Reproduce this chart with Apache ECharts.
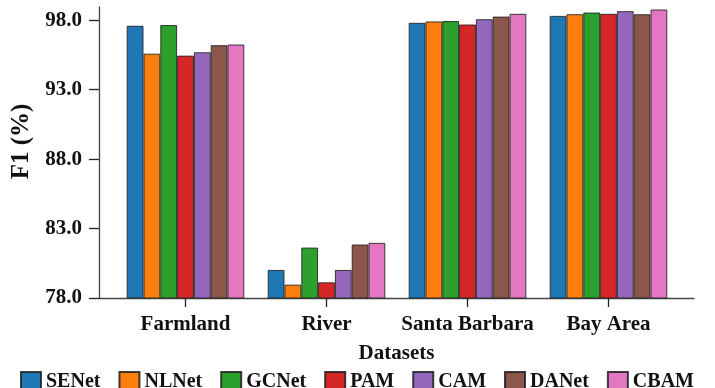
<!DOCTYPE html>
<html>
<head>
<meta charset="utf-8">
<script src="https://cdn.jsdelivr.net/npm/echarts@6/dist/echarts.min.js"></script>
<style>
  html, body { margin: 0; padding: 0; background: #fff; }
  #chart { width: 715px; height: 388px; }
</style>
</head>
<body>
<div id="chart"></div>
<script>
// Datasets on the x axis
const categories = ['Farmland', 'River', 'Santa Barbara', 'Bay Area'];

// F1 scores (%) per attention module
const seNet = [97.60, 80.02, 97.81, 98.31];
const nlNet = [95.59, 78.96, 97.91, 98.43];
const gcNet = [97.65, 81.63, 97.94, 98.55];
const pam   = [95.45, 79.13, 97.69, 98.46];
const cam   = [95.69, 80.02, 98.07, 98.65];
const daNet = [96.20, 81.85, 98.26, 98.43];
const cbam  = [96.25, 81.97, 98.46, 98.77];

// Y tick labels
const yTicks = [78.0, 83.0, 88.0, 93.0, 98.0];

const seriesNames = ['SENet', 'NLNet', 'GCNet', 'PAM', 'CAM', 'DANet', 'CBAM'];
const seriesData = [seNet, nlNet, gcNet, pam, cam, daNet, cbam];
const palette = ['#1f77b4', '#ff7f0e', '#2ca02c', '#d62728', '#9467bd', '#8c564b', '#e377c2'];

const FONT = '"Liberation Serif", "Times New Roman", serif';
const Y_MIN = 78, Y_MAX = 98.95;

const chart = echarts.init(document.getElementById('chart'), null, { renderer: 'canvas' });

const option = {
  animation: false,
  backgroundColor: '#fff',
  textStyle: { fontFamily: FONT },
  grid: [
    // plotting band for the bars
    { left: 115, width: 564, top: 7, bottom: 90 },
    // full frame carrying the axis lines and names
    { left: 99, right: 21, top: 7, bottom: 90 }
  ],
  legend: {
    data: seriesNames,
    left: 20,
    top: 371,
    padding: 0,
    icon: 'rect',
    itemWidth: 20,
    itemHeight: 20,
    itemGap: 18,
    textStyle: { fontFamily: FONT, fontWeight: 'bold', fontSize: 20, color: '#111' }
  },
  xAxis: [
    {
      type: 'category',
      gridIndex: 0,
      data: categories,
      boundaryGap: true,
      axisLine: { show: false },
      axisTick: { show: true, interval: 0, alignWithLabel: true, length: 9, lineStyle: { color: '#222', width: 1.3 } },
      axisLabel: { interval: 0, margin: 16, fontFamily: FONT, fontWeight: 'bold', fontSize: 21, color: '#111' }
    },
    {
      type: 'value',
      gridIndex: 1,
      min: 0, max: 1,
      name: 'Datasets',
      nameLocation: 'middle',
      nameGap: 45,
      nameTextStyle: { fontFamily: FONT, fontWeight: 'bold', fontSize: 21, color: '#111' },
      axisLine: { show: true, lineStyle: { color: '#444', width: 1.3 } },
      axisTick: { show: false },
      axisLabel: { show: false },
      splitLine: { show: false }
    }
  ],
  yAxis: [
    {
      type: 'value',
      gridIndex: 0,
      min: Y_MIN, max: Y_MAX,
      show: false,
      splitLine: { show: false }
    },
    {
      type: 'value',
      gridIndex: 1,
      min: Y_MIN, max: Y_MAX,
      name: 'F1 (%)',
      nameLocation: 'middle',
      nameGap: 63,
      nameRotate: 90,
      nameTextStyle: { fontFamily: FONT, fontWeight: 'bold', fontSize: 25, color: '#111', padding: [0, 0, 0, 22] },
      axisLine: { show: true, lineStyle: { color: '#444', width: 1.3 } },
      axisTick: { show: true, length: 10, customValues: yTicks, lineStyle: { color: '#222', width: 1.3 } },
      axisLabel: {
        margin: 17,
        customValues: yTicks,
        fontFamily: FONT, fontWeight: 'bold', fontSize: 21, color: '#111',
        formatter: v => Number(v).toFixed(1)
      },
      splitLine: { show: false }
    }
  ],
  series: seriesNames.map((name, i) => ({
    name: name,
    type: 'bar',
    xAxisIndex: 0,
    yAxisIndex: 0,
    data: seriesData[i],
    barWidth: 16.8,
    barGap: '0%',
    itemStyle: {
      color: palette[i],
      borderColor: 'rgba(30,30,30,0.85)',
      borderWidth: 1
    }
  }))
};

chart.setOption(option);
</script>
</body>
</html>
